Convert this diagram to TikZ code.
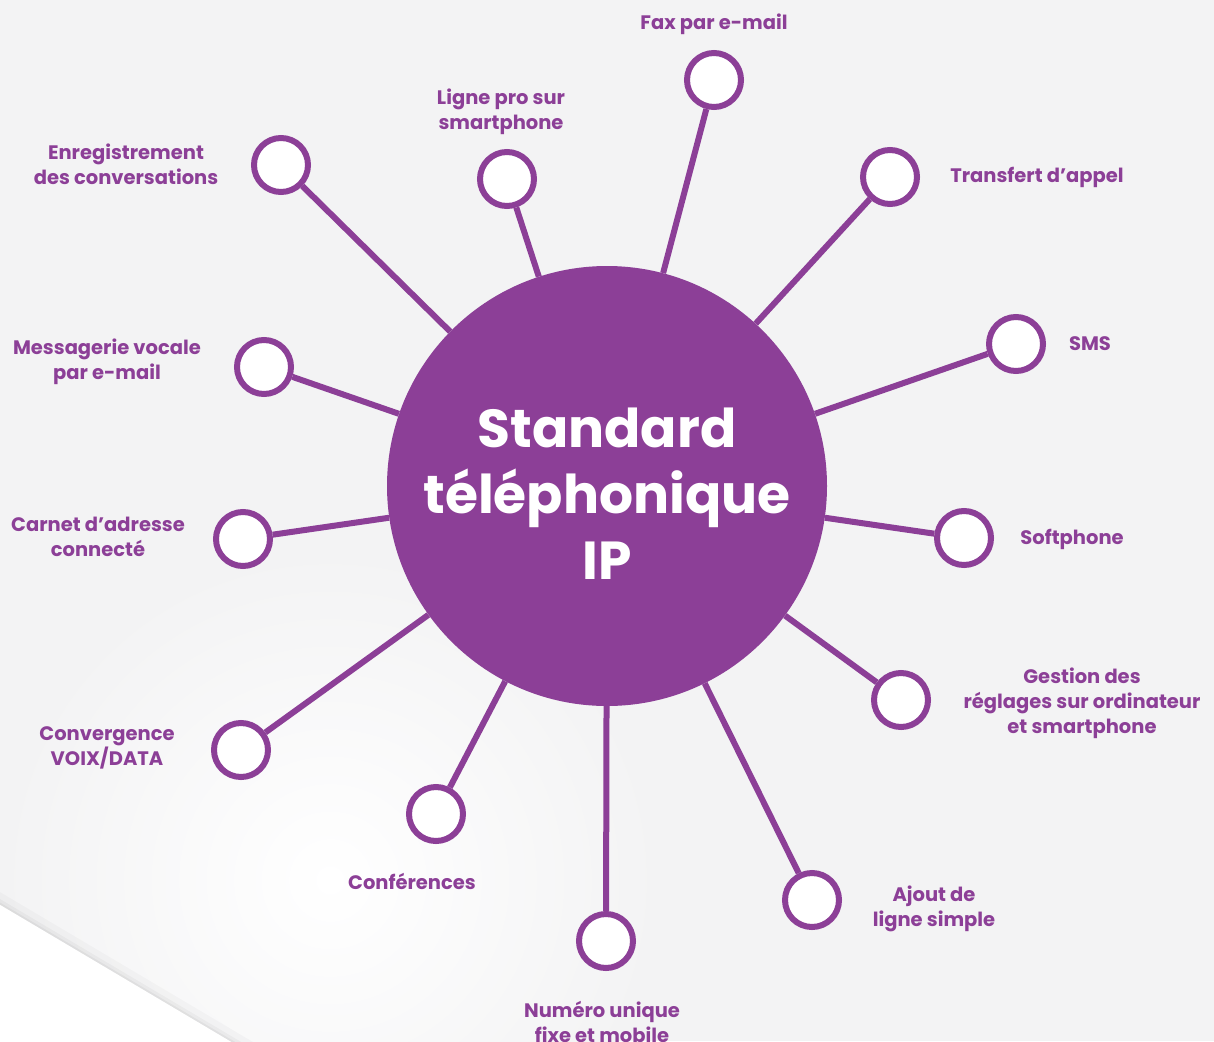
\documentclass[tikz,border=0pt]{standalone}
\usepackage{fontspec}
\setmainfont{Poppins}
\definecolor{pur}{HTML}{8C3F97}
\definecolor{bg}{HTML}{F3F3F4}
\begin{document}
\begin{tikzpicture}[x=1pt,y=-1pt,
 hub/.style={circle, fill=pur, minimum size=440pt, inner sep=0pt},
 hubtext/.style={text=white, font=\fontsize{53.5}{66}\selectfont\bfseries, align=center, inner sep=0pt},
 leaf/.style={circle, draw=pur, line width=6pt, fill=white, minimum size=54pt, inner sep=0pt},
 lab/.style={text=pur, font=\fontsize{19.5}{25}\selectfont\bfseries, align=center, inner sep=0pt},
 link/.style={draw=pur, line width=6pt}]
\useasboundingbox (0,0) rectangle (1214,1041);
\fill[bg] (0,0) rectangle (1214,1041);
\shade[inner color=white, outer color=bg] (330,880) circle (330);
\draw[black, opacity=0.025, line width=22pt] (-20,893) -- (250,1053);
\draw[black, opacity=0.03, line width=10pt] (-20,893) -- (250,1053);
\draw[black, opacity=0.04, line width=4pt] (-20,893) -- (250,1053);
\fill[white] (-20,893) -- (250,1053) -- (-20,1053) -- cycle;

\node[hub] (c) at (607,486) {};
\node[hubtext] (ct) at (607,494) {Standard\\téléphonique\\IP};

\node[leaf] (f1) at (714,80) {};
\node[leaf] (f2) at (507,179) {};
\node[leaf] (f3) at (281,165) {};
\node[leaf] (f4) at (890,177) {};
\node[leaf] (f5) at (1016,344) {};
\node[leaf] (f6) at (264,367) {};
\node[leaf] (f7) at (243,539) {};
\node[leaf] (f8) at (964,538) {};
\node[leaf] (f9) at (901,700) {};
\node[leaf] (f10) at (241,750) {};
\node[leaf] (f11) at (436,814) {};
\node[leaf] (f12) at (606,941) {};
\node[leaf] (f13) at (812,900) {};

\foreach \n in {f1,f2,f3,f4,f5,f6,f7,f8,f9,f10,f11,f12,f13}
  \draw[link] (c) -- (\n);

\node[lab] (l1) at (714,24) {Fax par e-mail};
\node[lab] (l2) at (501,112) {Ligne pro sur\\smartphone};
\node[lab] (l3) at (126,164) {Enregistrement\\des conversations};
\node[lab] (l4) at (1037,177) {Transfert d’appel};
\node[lab] (l5) at (1090,344) {SMS};
\node[lab] (l6) at (107,362) {Messagerie vocale\\par e-mail};
\node[lab] (l7) at (98,537) {Carnet d’adresse\\connecté};
\node[lab] (l8) at (1072,539) {Softphone};
\node[lab] (l9) at (1082,703) {Gestion des\\réglages sur ordinateur\\et smartphone};
\node[lab] (l10) at (107,748) {Convergence\\VOIX/DATA};
\node[lab] (l11) at (412,881) {Conférences};
\node[lab] (l12) at (602,1022) {Numéro unique\\fixe et mobile};
\node[lab] (l13) at (934,909) {Ajout de\\ligne simple};
\end{tikzpicture}
\end{document}
